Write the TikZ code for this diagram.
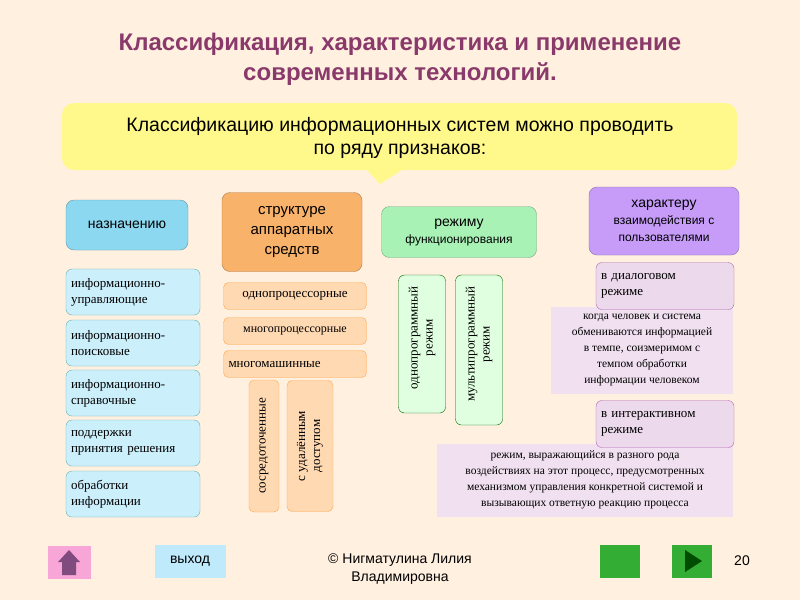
\documentclass[tikz,border=0pt]{standalone}
\usepackage{fontspec}
\setmainfont{Liberation Serif}
\newfontfamily\sans{Liberation Sans}
\definecolor{cA}{HTML}{8CD8F0}\definecolor{cB}{HTML}{F9B26A}\definecolor{cC}{HTML}{A9F2B6}\definecolor{cD}{HTML}{C69CF8}
\definecolor{ttl}{HTML}{8A3A6A}
\begin{document}
\begin{tikzpicture}[x=1pt,y=-1pt,
  cat/.style={draw=#1!70!black,fill=#1,rounded corners=8pt,align=center,font=\sans\fontsize{14}{17}\selectfont,inner sep=0pt},
  item/.style={draw=teal!60,fill=cyan!20,rounded corners=6pt,align=left,font=\fontsize{13}{16}\selectfont,inner sep=0pt},
  oitem/.style={draw=orange!70,fill=orange!30,rounded corners=5pt,font=\fontsize{13}{15}\selectfont,inner sep=0pt},
  gitem/.style={draw=green!40!black,fill=green!12,rounded corners=6pt,inner sep=0pt},
  pitem/.style={draw=violet!60,fill=violet!15,rounded corners=6pt,align=left,font=\fontsize{13}{16}\selectfont,inner sep=0pt},
  note/.style={fill=violet!12,align=center,font=\fontsize{11.5}{16}\selectfont,inner sep=0pt},
  vt/.style={rotate=90,align=center,font=\fontsize{13}{15}\selectfont}]
\fill[orange!12] (0,0) rectangle (800,600);
\useasboundingbox (0,0) rectangle (800,600);
\node[text=ttl,font=\sans\bfseries\fontsize{24}{30}\selectfont,align=center] (title) at (400,59) {Классификация, характеристика и применение\\современных технологий.};
\fill[yellow!45,rounded corners=12pt] (62,103) rectangle (737,170);
\fill[yellow!45] (365,168) -- (405,168) -- (380,184) -- cycle;
\node[font=\sans\fontsize{19.5}{23}\selectfont,align=center] (intro) at (400,138) {Классификацию информационных систем можно проводить\\по ряду признаков:};
\node[cat=cA,minimum width=122pt,minimum height=50pt] (n1) at (127,225) {назначению};
\node[cat=cB,minimum width=140pt,minimum height=79pt,font=\sans\fontsize{15}{20}\selectfont] (n2) at (292,232) {структуре\\аппаратных\\средств};
\node[cat=cC,minimum width=155pt,minimum height=51pt] (n3) at (459,232) {режиму\\{\fontsize{12}{15}\selectfont функционирования}};
\node[cat=cD,minimum width=150pt,minimum height=68pt] (n4) at (664,221) {характеру\\{\fontsize{12}{15}\selectfont взаимодействия с}\\{\fontsize{12}{15}\selectfont пользователями}};
\foreach \y/\t [count=\i] in {292/{информационно-\\управляющие},343/{информационно-\\поисковые},393/{информационно-\\справочные},443/{поддержки\\принятия решения},494/{обработки\\информации}}
  \node[item,minimum width=134pt,minimum height=46pt,text width=124pt] (a\i) at (133,\y) {\t};
\node[oitem,minimum width=143pt,minimum height=27pt] (b1) at (295,296) {однопроцессорные};
\node[oitem,minimum width=143pt,minimum height=27pt,font=\fontsize{12}{14}\selectfont] (b2) at (295,331) {многопроцессорные};
\node[oitem,minimum width=143pt,minimum height=27pt,text width=133pt,align=left] (b3) at (295,364) {многомашинные};
\node[oitem,minimum width=30pt,minimum height=132pt] (b4) at (264,446) {};
\node[vt] at (b4) {сосредоточенные};
\node[oitem,minimum width=46pt,minimum height=131pt] (b5) at (310,446) {};
\node[vt] at (b5) {с удалённым\\доступом};
\node[gitem,minimum width=47pt,minimum height=138pt] (c1) at (422,344) {};
\node[vt,anchor=east] at (422,283) {однопрограммный\\режим};
\node[gitem,minimum width=47pt,minimum height=150pt] (c2) at (479,350) {};
\node[vt,anchor=east] at (479,283) {мультипрограммный\\режим};
\node[note,minimum width=182pt,minimum height=87pt] (d2) at (642,350) {когда человек и система\\обмениваются информацией\\в темпе, соизмеримом с\\темпом обработки\\информации человеком};
\node[pitem,minimum width=138pt,minimum height=47pt,text width=128pt] (d1) at (665,286) {в диалоговом\\режиме};
\node[note,minimum width=296pt,minimum height=73pt] (d4) at (585,480) {режим, выражающийся в разного рода\\воздействиях на этот процесс, предусмотренных\\механизмом управления конкретной системой и\\вызывающих ответную реакцию процесса};
\node[pitem,minimum width=138pt,minimum height=47pt,text width=128pt] (d3) at (665,424) {в интерактивном\\режиме};
\node[fill=magenta!35,minimum width=43pt,minimum height=33pt,inner sep=0pt] (home) at (69,562) {};
\fill[violet!40!gray] (58,562) -- (69,550) -- (80,562) -- cycle (62,562) rectangle (76,575);
\node[fill=cyan!25,minimum width=71pt,minimum height=33pt,inner sep=0pt,font=\sans\fontsize{14}{16}\selectfont] (exit) at (190,561) {выход};
\node[font=\sans\fontsize{14}{18}\selectfont,align=center] (foot) at (400,569) {© Нигматулина Лилия\\Владимировна};
\node[fill=green!60!black!80,minimum width=40pt,minimum height=33pt,inner sep=0pt] (prev) at (620,561) {};
\node[fill=green!60!black!80,minimum width=40pt,minimum height=33pt,inner sep=0pt] (next) at (692,561) {};
\fill[green!30!black] (685,550) -- (702,561) -- (685,572) -- cycle;
\node[font=\sans\fontsize{14}{16}\selectfont] (pg) at (742,561) {20};
\end{tikzpicture}
\end{document}
